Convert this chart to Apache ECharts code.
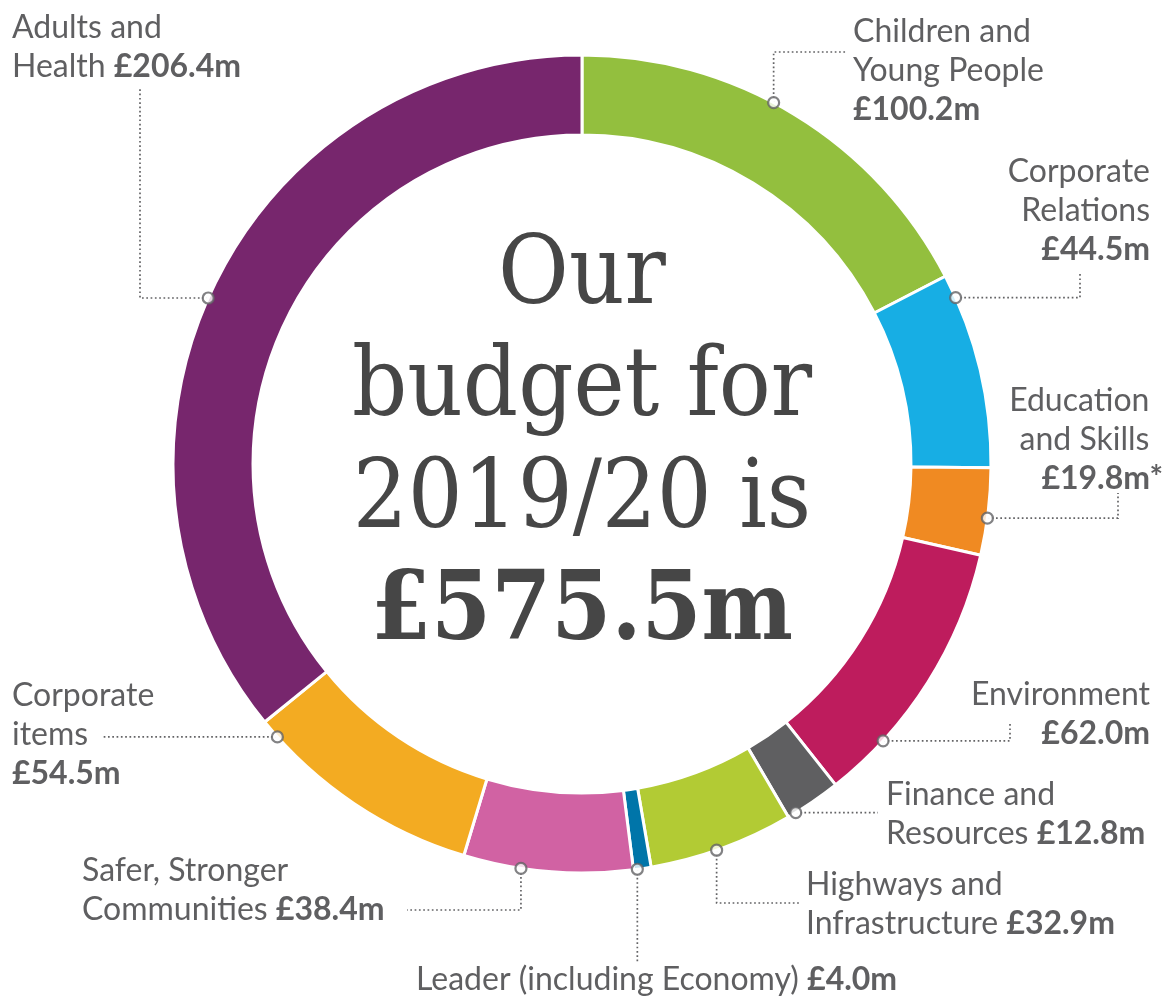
<!DOCTYPE html>
<html>
<head>
<meta charset="utf-8">
<title>Our budget for 2019/20</title>
<script src="https://cdn.jsdelivr.net/npm/echarts@6/dist/echarts.min.js"></script>
<style>
  html, body { margin: 0; padding: 0; background: #fff; }
  #main { width: 1168px; height: 999px; }
</style>
</head>
<body>
<div id="main"></div>
<script>
// slices, clockwise from 12 o'clock
const categories = [
  'Children and\nYoung People',
  'Corporate\nRelations',
  'Education\nand Skills',
  'Environment',
  'Finance and\nResources',
  'Highways and\nInfrastructure',
  'Leader (including Economy)',
  'Safer, Stronger\nCommunities',
  'Corporate\nitems',
  'Adults and\nHealth'
];
const budget = [100.2, 44.5, 19.8, 62.0, 12.8, 32.9, 4.0, 38.4, 54.5, 206.4];
const footnotes = ['', '', '*', '', '', '', '', '', '', ''];
const colors = ['#93bf3e', '#17aee4', '#f08a22', '#be1c5d', '#5f5f61',
                '#b2cb34', '#0075a9', '#d162a3', '#f3ab22', '#77266d'];
const headline = ['Our', 'budget for', '2019/20 is'];

// label placement (layout only)
// shift = degrees from the slice middle to the dot, route = leader path after the dot
const spots = [
  { x: 853, y: 12, align: 'left', newLine: true, shift: -3.4, route: [['v', 52], ['h', 846]] },
  { x: 1150, y: 152, align: 'right', newLine: true, shift: -10.6, route: [['h', 1080], ['v', 274]] },
  { x: 1163, y: 381, align: 'right', newLine: true, shift: 0.9, route: [['h', 1118], ['v', 493]] },
  { x: 1150, y: 675, align: 'right', newLine: true, shift: 10.3, route: [['h', 1010], ['v', 722]] },
  { x: 886, y: 775, align: 'left', newLine: false, shift: 2.8, route: [['h', 878]] },
  { x: 806, y: 865, align: 'left', newLine: false, shift: 0.8, route: [['v', 903], ['h', 800]] },
  { x: 416, y: 960, align: 'left', newLine: false, shift: 0.7, route: [['v', 962]] },
  { x: 82, y: 851, align: 'left', newLine: false, shift: 3.8, route: [['v', 910], ['h', 407]] },
  { x: 12, y: 676, align: 'left', newLine: true, shift: 14.3, route: [['h', 103]] },
  { x: 12, y: 8, align: 'left', newLine: false, shift: -1.5, route: [['h', 140], ['v', 88]] }
];

const cx = 582, cy = 464, r0 = 329, r1 = 409;
const textColor = '#5f5f61';
const lineColor = '#636365';

const total = budget.reduce((a, b) => a + b, 0);
const money = v => '£' + v.toFixed(1) + 'm';

// angle of each dot, degrees clockwise from top
const dotAngles = [];
let acc = 0;
budget.forEach((v, i) => {
  const a = v / total * 360;
  dotAngles.push(acc + a / 2 + spots[i].shift);
  acc += a;
});

function dotPoint(i) {
  const t = dotAngles[i] * Math.PI / 180;
  return [cx + r1 * Math.sin(t), cy - r1 * Math.cos(t)];
}

function formatLabel(params) {
  const i = params.dataIndex;
  const s = spots[i];
  const k = s.align === 'right' ? 'R' : '';
  const note = footnotes[i];
  const ghost = note && s.align === 'right' ? '{g' + k + '|' + note + '}' : '';
  const lines = categories[i].split('\n').map(t => '{n' + k + '|' + t + '}');
  const val = '{b' + k + '|' + money(budget[i]) + note + '}';
  if (s.newLine) {
    return lines.map(l => l + ghost).join('\n') + '\n' + val;
  }
  lines[lines.length - 1] += '{n' + k + '| }' + val;
  return lines.join('\n');
}

const base = { fontFamily: 'Lato', fontSize: 32, lineHeight: 39, color: textColor };
const rich = {
  n: Object.assign({}, base),
  b: Object.assign({}, base, { fontWeight: 'bold' }),
  nR: Object.assign({}, base, { align: 'right' }),
  bR: Object.assign({}, base, { fontWeight: 'bold', align: 'right' }),
  gR: Object.assign({}, base, { fontWeight: 'bold', align: 'right', color: 'rgba(0,0,0,0)' })
};

var chart = echarts.init(document.getElementById('main'));

const option = {
  animation: false,
  backgroundColor: '#fff',
  polar: { center: [cx, cy], radius: r1 },
  angleAxis: {
    type: 'value', min: 0, max: 360, startAngle: 90, clockwise: true,
    axisLine: { show: false }, axisTick: { show: false },
    axisLabel: { show: false }, splitLine: { show: false }
  },
  radiusAxis: {
    type: 'value', min: 0, max: 1,
    axisLine: { show: false }, axisTick: { show: false },
    axisLabel: { show: false }, splitLine: { show: false }
  },
  graphic: [{
    type: 'text',
    x: cx,
    y: 222,
    scaleX: 0.9,
    z: 10,
    style: {
      text: headline.map(t => '{r|' + t + '}').join('\n') + '\n{t|' + money(total) + '}',
      align: 'center',
      verticalAlign: 'top',
      fill: '#464646',
      rich: {
        r: { fontFamily: 'DejaVu Serif', fontSize: 96, lineHeight: 112, fill: '#464646', align: 'center' },
        t: { fontFamily: 'DejaVu Serif', fontWeight: 'bold', fontSize: 96, lineHeight: 112, fill: '#464646', align: 'center' }
      }
    }
  }],
  series: [
    {
      type: 'pie',
      center: [cx, cy],
      radius: [r0, r1],
      startAngle: 90,
      clockwise: true,
      avoidLabelOverlap: false,
      silent: true,
      itemStyle: { borderColor: '#fff', borderWidth: 3 },
      label: {
        show: true,
        position: 'outside',
        formatter: formatLabel,
        rich: rich
      },
      labelLine: {
        show: true,
        lineStyle: { color: lineColor, width: 1.7, type: [1.7, 2.6] }
      },
      labelLayout: function (params) {
        const i = params.dataIndex;
        const s = spots[i];
        const pts = [dotPoint(i)];
        s.route.forEach(step => {
          const last = pts[pts.length - 1];
          pts.push(step[0] === 'h' ? [step[1], last[1]] : [last[0], step[1]]);
        });
        if (pts.length < 3) {
          const a = pts[0], b = pts[1];
          pts.splice(1, 0, [(a[0] + b[0]) / 2, (a[1] + b[1]) / 2]);
        }
        return {
          x: s.x,
          y: s.y,
          align: s.align,
          verticalAlign: 'top',
          labelLinePoints: pts
        };
      },
      data: budget.map((v, i) => ({
        name: categories[i],
        value: v,
        itemStyle: { color: colors[i] }
      }))
    },
    {
      type: 'scatter',
      coordinateSystem: 'polar',
      silent: true,
      z: 5,
      symbol: 'circle',
      symbolSize: 11,
      itemStyle: { color: '#fff', borderColor: lineColor, borderWidth: 2.2 },
      data: dotAngles.map(a => [1, a])
    }
  ]
};

chart.setOption(option);
</script>
</body>
</html>
